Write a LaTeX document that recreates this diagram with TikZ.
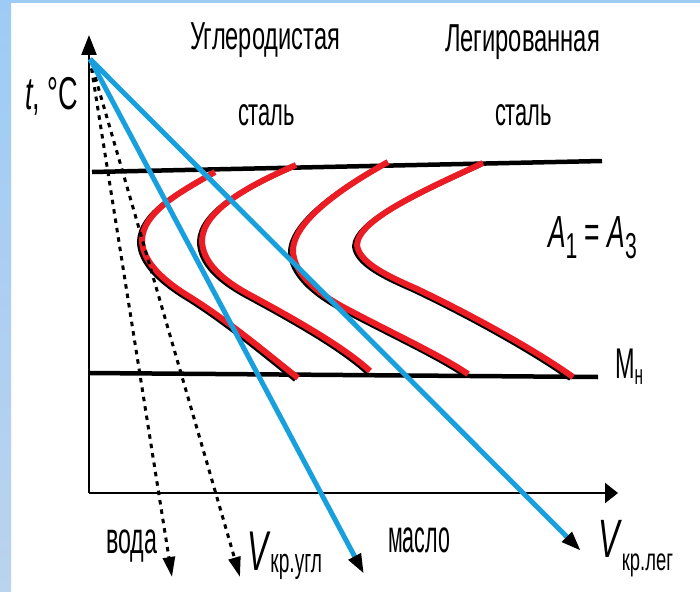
\documentclass[tikz,border=0pt]{standalone}
\usepackage{fontspec}
\setmainfont{Liberation Sans}
\usepackage{graphicx}
\usetikzlibrary{arrows.meta}
\newcommand{\fitw}[2]{\resizebox{#1}{\height}{#2}}
\newcommand{\fsz}[1]{\fontsize{#1}{#1}\selectfont}
\definecolor{redc}{RGB}{236,28,36}
\definecolor{bluec}{RGB}{24,160,222}
\definecolor{bgtop}{RGB}{158,203,245}
\definecolor{bgmid}{RGB}{251,230,246}
\definecolor{bgbot}{RGB}{186,211,238}
\tikzset{
  lbl/.style={inner sep=0pt, outer sep=0pt, anchor=base west, text=black},
  axisline/.style={line width=2.4pt, black},
  levelline/.style={line width=4.5pt, black},
  redcurve/.style={line width=6pt, redc, line cap=butt},
  shadowcurve/.style={line width=5pt, black},
  coolblue/.style={line width=5pt, bluec, -{Triangle[length=20pt,width=13pt,color=black]}},
  cooldot/.style={line width=3pt, black, dash pattern=on 4.5pt off 5pt, -{Triangle[length=20pt,width=12pt]}},
  cA/.style={insert path={(215,172) .. controls (180,192) and (143,212) .. (142,240) .. controls (142,262) and (165,282) .. (190,297) .. controls (230,322) and (270,356) .. (298,378)}},
  cB/.style={insert path={(296,165) .. controls (250,185) and (203,210) .. (202,240) .. controls (202,262) and (222,280) .. (250,295) .. controls (300,322) and (345,348) .. (370,371)}},
  cC/.style={insert path={(388,162) .. controls (352,182) and (294,218) .. (293,250) .. controls (293,272) and (315,292) .. (345,308) .. controls (390,332) and (440,355) .. (468,374)}},
  cD/.style={insert path={(483,163) .. controls (420,192) and (358,220) .. (357,245) .. controls (359,262) and (385,275) .. (415,288) .. controls (472,315) and (535,350) .. (573,377)}},
}
\begin{document}
\begin{tikzpicture}[x=1pt,y=-1pt]
\useasboundingbox (0,0) rectangle (700,591);
\fill[white] (0,0) rectangle (700,591);
\fill[bgtop] (0,0) rectangle (700,3);
\shade[top color=bgtop, middle color=bgmid, bottom color=bgbot] (0,0) rectangle (11,591);

% named points
\coordinate (org) at (89,493);
\coordinate (ytip) at (89,35);
\coordinate (xtip) at (618,493);
\coordinate (O) at (90,59);
\coordinate (b1) at (364,574);
\coordinate (b2) at (581,551);
\coordinate (d1) at (172,577);
\coordinate (d2) at (240,577);
\coordinate (A1l) at (92,172);
\coordinate (A1r) at (602,161);
\coordinate (Mnl) at (89,373);
\coordinate (Mnr) at (598,377);

% axes
\draw[axisline, -{Triangle[length=20pt,width=15pt]}] (org) -- (ytip);
\draw[axisline, -{Triangle[length=13pt,width=20pt]}] (org) -- (xtip);

% level lines
\draw[levelline] (A1l) -- (A1r);
\draw[levelline] (Mnl) -- (Mnr);

% C-curves: black shadow, then red
\begin{scope}[shift={(-2.5,1.5)}]
\draw[shadowcurve, cA];
\draw[shadowcurve, cB];
\draw[shadowcurve, cC];
\draw[shadowcurve, cD];
\end{scope}
\draw[redcurve, cA];
\draw[redcurve, cB];
\draw[redcurve, cC];
\draw[redcurve, cD];

% cooling curves
\draw[cooldot] (O) -- (d1);
\draw[cooldot] (O) -- (d2);
\draw[coolblue] (O) -- (b1);
\draw[coolblue] (O) -- (b2);

% labels
\node[lbl] (tC) at (25,109) {\fsz{46}\fitw{53pt}{\textit{t}, °C}};
\node[lbl] (ugl1) at (190,50) {\fsz{39}\fitw{150pt}{Углеродистая}};
\node[lbl] (ugl2) at (238,125) {\fsz{39}\fitw{57pt}{сталь}};
\node[lbl] (leg1) at (445,52) {\fsz{39}\fitw{155pt}{Легированная}};
\node[lbl] (leg2) at (495,125) {\fsz{39}\fitw{57pt}{сталь}};
\node[lbl] (A13) at (548,247) {\fsz{45}\fitw{89pt}{\textit{A}\raisebox{-11pt}{\fsz{36}1} = \textit{A}\raisebox{-11pt}{\fsz{36}3}}};
\node[lbl] (Mn) at (615,378) {\fsz{43}\fitw{28pt}{M\raisebox{-6pt}{\fsz{28}н}}};
\node[lbl] (voda) at (106,553) {\fsz{44}\fitw{51pt}{вода}};
\node[lbl] (maslo) at (388,552) {\fsz{46}\fitw{62pt}{масло}};
\node[lbl] (vugl) at (247,570) {\fsz{56}\fitw{75pt}{\textit{V}\raisebox{-2pt}{\fsz{34}кр.угл}}};
\node[lbl] (vleg) at (598,557) {\fsz{54}\fitw{75pt}{\textit{V}\raisebox{-13pt}{\fsz{31}кр.лег}}};
\end{tikzpicture}
\end{document}
